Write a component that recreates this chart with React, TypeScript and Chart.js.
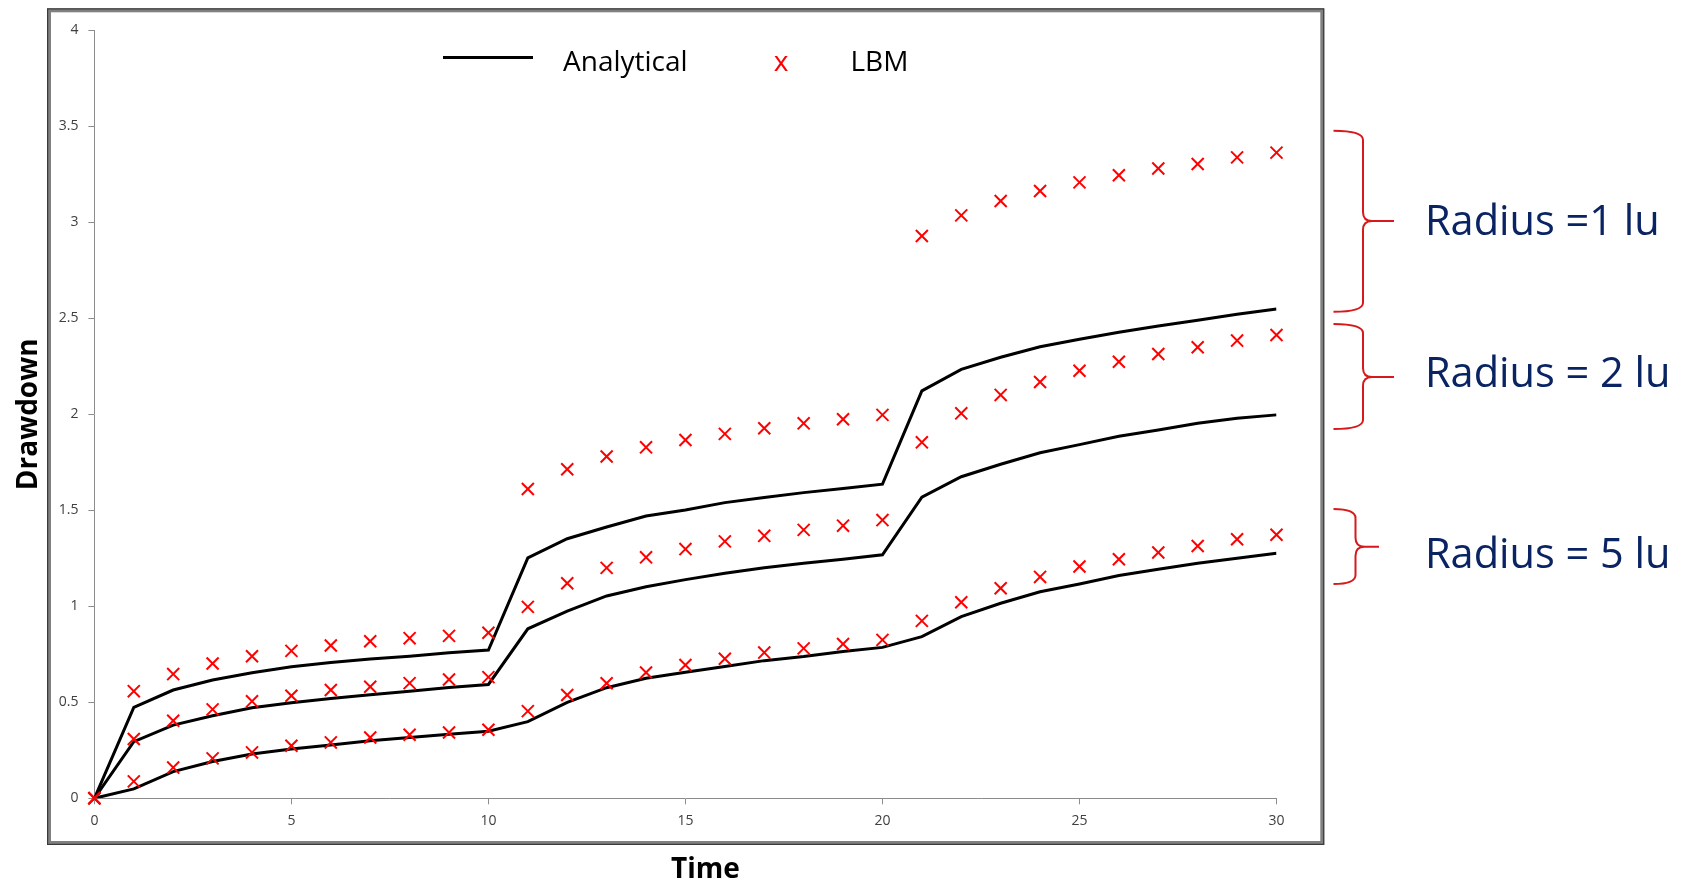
import React, { useEffect, useRef } from 'react';
import { Chart, registerables } from 'chart.js';

Chart.register(...registerables);

// ---------- data ----------
const times = [0, 1, 2, 3, 4, 5, 6, 7, 8, 9, 10, 11, 12, 13, 14, 15, 16, 17, 18, 19, 20, 21, 22, 23, 24, 25, 26, 27, 28, 29, 30];

const analyticalR1 = [0, 0.473, 0.564, 0.616, 0.654, 0.685, 0.707, 0.725, 0.74, 0.758, 0.772, 1.252, 1.352, 1.413, 1.47, 1.502, 1.54, 1.567, 1.592, 1.613, 1.636, 2.122, 2.234, 2.297, 2.352, 2.391, 2.427, 2.46, 2.49, 2.521, 2.549];
const analyticalR2 = [0, 0.295, 0.381, 0.43, 0.472, 0.498, 0.52, 0.539, 0.558, 0.577, 0.593, 0.883, 0.975, 1.054, 1.102, 1.139, 1.172, 1.201, 1.224, 1.245, 1.268, 1.569, 1.675, 1.74, 1.8, 1.842, 1.886, 1.918, 1.953, 1.979, 1.997];
const analyticalR5 = [0, 0.049, 0.139, 0.192, 0.231, 0.257, 0.277, 0.3, 0.317, 0.333, 0.349, 0.399, 0.5, 0.576, 0.625, 0.656, 0.686, 0.717, 0.738, 0.764, 0.786, 0.842, 0.946, 1.016, 1.076, 1.116, 1.16, 1.193, 1.224, 1.25, 1.276];

const lbmR1 = [0, 0.558, 0.647, 0.702, 0.74, 0.768, 0.796, 0.818, 0.834, 0.846, 0.862, 1.611, 1.714, 1.78, 1.828, 1.866, 1.898, 1.927, 1.953, 1.974, 1.997, 2.929, 3.036, 3.111, 3.163, 3.208, 3.245, 3.28, 3.304, 3.338, 3.363];
const lbmR2 = [0, 0.309, 0.404, 0.463, 0.505, 0.534, 0.564, 0.581, 0.6, 0.619, 0.631, 0.997, 1.12, 1.2, 1.255, 1.298, 1.338, 1.367, 1.398, 1.42, 1.449, 1.854, 2.005, 2.101, 2.168, 2.227, 2.274, 2.314, 2.349, 2.384, 2.413];
const lbmR5 = [0, 0.088, 0.16, 0.208, 0.239, 0.274, 0.291, 0.317, 0.331, 0.343, 0.357, 0.454, 0.538, 0.599, 0.655, 0.694, 0.727, 0.759, 0.781, 0.804, 0.825, 0.924, 1.021, 1.094, 1.153, 1.207, 1.245, 1.28, 1.314, 1.349, 1.373];

const xTickValues = [0, 5, 10, 15, 20, 25, 30];
const yTickValues = [0, 0.5, 1, 1.5, 2, 2.5, 3, 3.5, 4];

const xTitle = 'Time';
const yTitle = 'Drawdown';
const legendLabels = ['Analytical', 'LBM'];
const legendMarkerText = 'x';

const annotationLabels = ['Radius =1 lu', 'Radius = 2 lu', 'Radius = 5 lu'];
const bracketTop = [3.477, 2.47, 1.507];
const bracketMid = [3.007, 2.194, 1.31];
const bracketBottom = [2.534, 1.923, 1.116];
const labelMid = [3.009, 2.22, 1.274];

// ---------- styles ----------
const FONT = "'Open Sans', 'DejaVu Sans', sans-serif";
const RED = '#ff0000';
const BRACE_RED = '#d7191c';
const NAVY = '#0a2463';
const AXIS_GRAY = '#8c8c8c';

const toPoints = (vals: number[]) => vals.map((v, i) => ({ x: times[i], y: v }));

const decorPlugin = {
  id: 'decor',
  beforeDraw(chart: any) {
    const ctx = chart.ctx as CanvasRenderingContext2D;
    ctx.save();
    ctx.fillStyle = '#ffffff';
    ctx.fillRect(0, 0, chart.width, chart.height);
    // frame around plot
    ctx.lineWidth = 4;
    ctx.strokeStyle = '#808080';
    ctx.strokeRect(49, 10.3, 1273.3, 832.7);
    ctx.lineWidth = 1.2;
    ctx.strokeStyle = '#3a3a3a';
    ctx.strokeRect(47.6, 8.9, 1276.1, 835.5);
    ctx.restore();
  },
  afterDraw(chart: any) {
    const ctx = chart.ctx as CanvasRenderingContext2D;
    const area = chart.chartArea;
    const ys = chart.scales.y;
    ctx.save();

    // x axis title (sits right of the plot centre in the original)
    ctx.font = `bold 28px ${FONT}`;
    ctx.fillStyle = '#000';
    ctx.textAlign = 'center';
    ctx.textBaseline = 'middle';
    ctx.fillText(xTitle, (area.left + area.right) / 2 + 20, 870);

    // legend
    ctx.strokeStyle = '#000';
    ctx.lineWidth = 3;
    ctx.beginPath();
    ctx.moveTo(443, 57.5);
    ctx.lineTo(533, 57.5);
    ctx.stroke();
    ctx.font = `28px ${FONT}`;
    ctx.textBaseline = 'alphabetic';
    ctx.textAlign = 'left';
    ctx.fillStyle = '#000';
    ctx.fillText(legendLabels[0], 563, 70.5);
    ctx.fillText(legendLabels[1], 850.5, 70.5);
    ctx.fillStyle = RED;
    ctx.textAlign = 'center';
    ctx.fillText(legendMarkerText, 781, 70.5);

    // braces + labels
    const r = area.right;
    for (let i = 0; i < annotationLabels.length; i++) {
      const small = i === 2;
      const x0 = r + 57;
      const xv = r + (small ? 79 : 86.5);
      const xt = r + (small ? 102.5 : 117.5);
      const yT = ys.getPixelForValue(bracketTop[i]);
      const yM = ys.getPixelForValue(bracketMid[i]);
      const yB = ys.getPixelForValue(bracketBottom[i]);
      const c = 9;
      ctx.strokeStyle = BRACE_RED;
      ctx.lineWidth = 2;
      ctx.lineJoin = 'round';
      ctx.beginPath();
      ctx.moveTo(x0, yT);
      ctx.quadraticCurveTo(xv, yT, xv, yT + c);
      ctx.lineTo(xv, yM - c);
      ctx.quadraticCurveTo(xv, yM, xv + c, yM);
      ctx.lineTo(xt, yM);
      ctx.moveTo(xv + c, yM);
      ctx.quadraticCurveTo(xv, yM, xv, yM + c);
      ctx.lineTo(xv, yB - c);
      ctx.quadraticCurveTo(xv, yB, x0, yB);
      ctx.stroke();

      ctx.font = `41.5px ${FONT}`;
      ctx.fillStyle = NAVY;
      ctx.textAlign = 'left';
      ctx.textBaseline = 'alphabetic';
      const yL = ys.getPixelForValue(labelMid[i]);
      ctx.fillText(annotationLabels[i], r + 148.5, yL + 14.8);
    }
    ctx.restore();
  },
};

export default function App() {
  const ref = useRef<HTMLCanvasElement>(null);

  useEffect(() => {
    document.body.style.margin = '0';
    Chart.defaults.font.family = FONT;

    const lineStyle = {
      showLine: true,
      borderColor: '#000',
      backgroundColor: '#000',
      borderWidth: 3,
      pointRadius: 0,
      tension: 0,
      order: 2,
    };
    const markStyle = {
      showLine: false,
      pointStyle: 'crossRot' as const,
      pointRadius: 8.5,
      borderColor: RED,
      backgroundColor: RED,
      borderWidth: 2,
      clip: false as any,
      order: 1,
    };

    const chart = new Chart(ref.current as HTMLCanvasElement, {
      type: 'scatter',
      data: {
        datasets: [
          { label: 'LBM r=1', data: toPoints(lbmR1), ...markStyle },
          { label: 'LBM r=2', data: toPoints(lbmR2), ...markStyle },
          { label: 'LBM r=5', data: toPoints(lbmR5), ...markStyle },
          { label: 'Analytical r=1', data: toPoints(analyticalR1), ...lineStyle },
          { label: 'Analytical r=2', data: toPoints(analyticalR2), ...lineStyle },
          { label: 'Analytical r=5', data: toPoints(analyticalR5), ...lineStyle },
        ],
      },
      options: {
        animation: false,
        responsive: false,
        events: [],
        layout: { padding: { left: 0, right: 405.5, top: 30.3, bottom: 0 } },
        plugins: {
          legend: { display: false },
          tooltip: { enabled: false },
        },
        scales: {
          x: {
            type: 'linear',
            min: 0,
            max: 30,
            afterBuildTicks: (scale: any) => {
              scale.ticks = xTickValues.map((v) => ({ value: v }));
            },
            afterFit: (scale: any) => {
              scale.height = 86.7;
            },
            ticks: {
              autoSkip: false,
              maxRotation: 0,
              padding: 8,
              color: '#404040',
              font: { size: 14 },
              callback: (v: any) => String(v),
            },
            grid: {
              display: true,
              drawOnChartArea: false,
              drawTicks: true,
              tickLength: 6,
              color: AXIS_GRAY,
            },
            border: { display: true, color: AXIS_GRAY, width: 1 },
            title: { display: false },
          },
          y: {
            type: 'linear',
            min: 0,
            max: 4,
            afterBuildTicks: (scale: any) => {
              scale.ticks = yTickValues.map((v) => ({ value: v }));
            },
            afterFit: (scale: any) => {
              scale.width = 94.4;
            },
            ticks: {
              autoSkip: false,
              padding: 10,
              color: '#404040',
              font: { size: 14 },
              callback: (v: any) => String(v),
            },
            grid: {
              display: true,
              drawOnChartArea: false,
              drawTicks: true,
              tickLength: 6,
              color: AXIS_GRAY,
            },
            border: { display: true, color: AXIS_GRAY, width: 1 },
            title: {
              display: true,
              text: yTitle,
              color: '#000',
              font: { size: 28, weight: 'bold' },
              padding: { top: 12, bottom: 0 },
            },
          },
        },
      },
      plugins: [decorPlugin],
    } as any);

    return () => chart.destroy();
  }, []);

  return (
    <div style={{ position: 'absolute', left: 0, top: 0, width: 1682, height: 885, background: '#fff' }}>
      <canvas ref={ref} width={1682} height={885} style={{ display: 'block' }} />
    </div>
  );
}
